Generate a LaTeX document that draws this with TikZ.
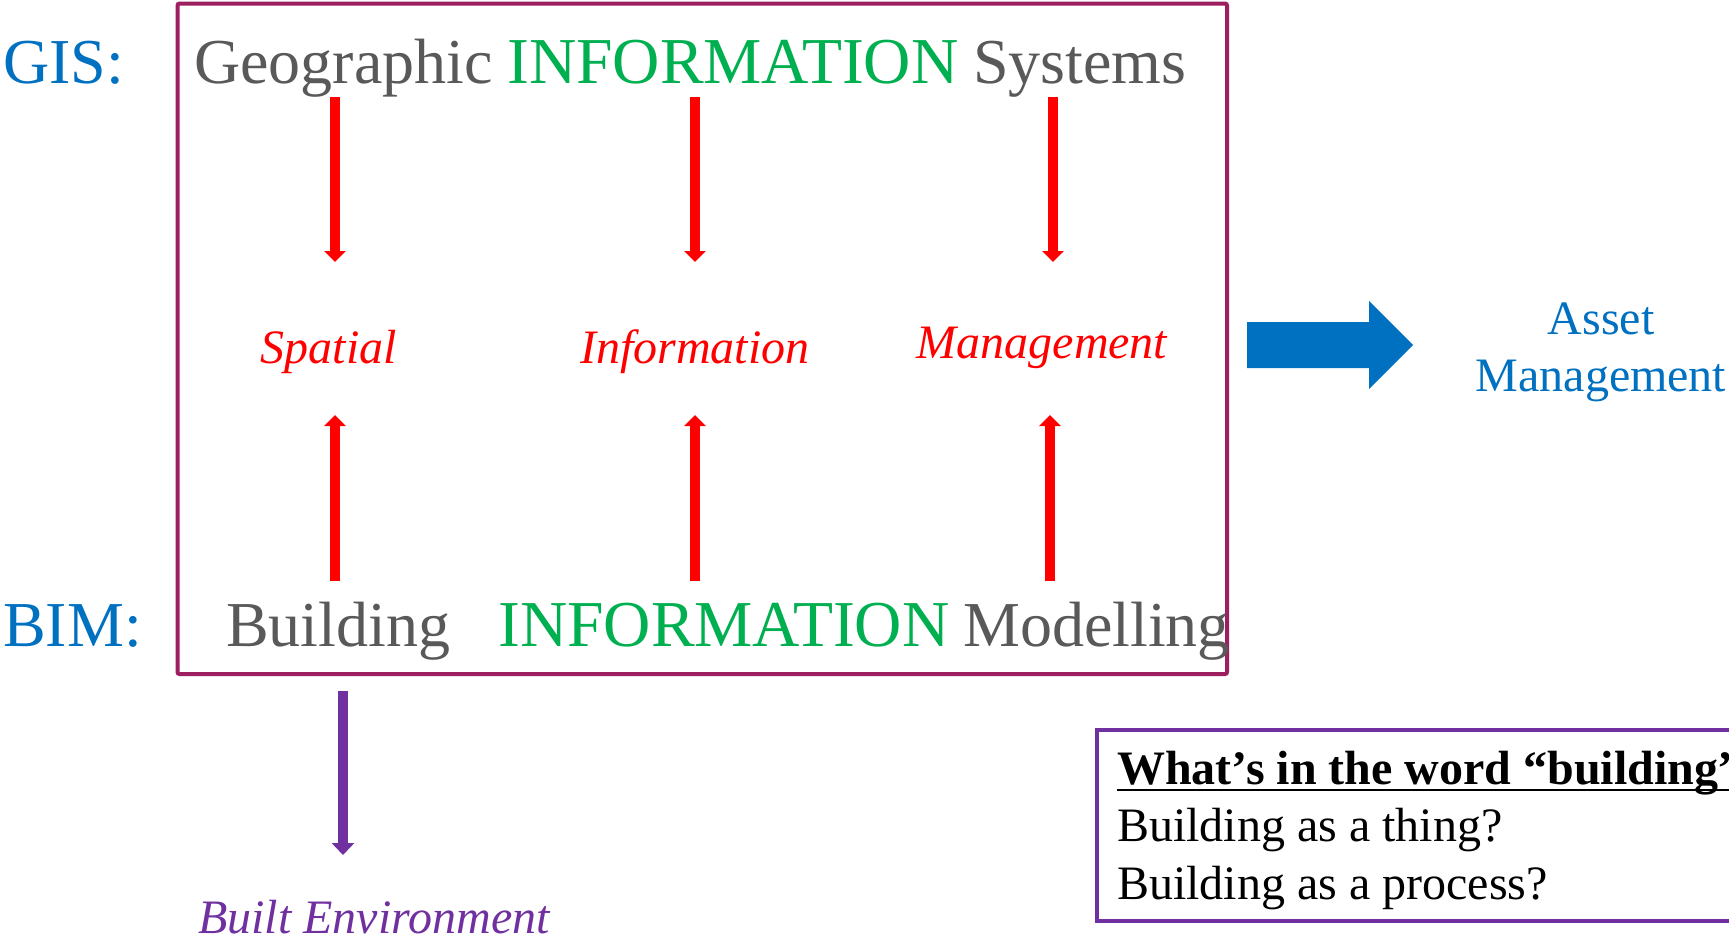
\documentclass[tikz,border=0pt]{standalone}
\usepackage{fontspec}
\setmainfont{Liberation Serif}
\usetikzlibrary{arrows.meta}
\definecolor{boxmag}{RGB}{158,31,96}
\definecolor{pblue}{RGB}{0,112,192}
\definecolor{pgreen}{RGB}{0,176,80}
\definecolor{pgrey}{RGB}{89,89,89}
\definecolor{ppurple}{RGB}{112,48,160}
\definecolor{pred}{RGB}{255,0,0}
\begin{document}
\begin{tikzpicture}[x=1pt,y=-1pt,
  big/.style={font=\fontsize{64}{76}\selectfont, inner sep=0pt, anchor=base west},
  bigcap/.style={font=\fontsize{65.5}{78}\selectfont, inner sep=0pt, anchor=base west},
  mid/.style={font=\fontsize{48}{57}\selectfont, inner sep=0pt, anchor=base west},
  lab/.style={font=\fontsize{48}{57}\selectfont\itshape, inner sep=0pt, anchor=base},
  redarrow/.style={draw=pred, line width=10pt, -{Triangle[width=21pt,length=11pt]}},
  purparrow/.style={draw=ppurple, line width=10pt, -{Triangle[width=22pt,length=12pt]}}
]
\clip (0,0) rectangle (1729,940);
\fill[white] (0,0) rectangle (1729,940);

% main frame
\draw[boxmag, line width=4pt, rounded corners=2pt] (177.5,3.5) rectangle (1227,674);

% top line
\node[big, text=pblue] (gis) at (3,83) {GIS:};
\node[big, text=pgrey] (geo) at (194,83) {Geographic};
\node[bigcap, text=pgreen] (info1) at (507,83) {INFORMATION};
\node[big, text=pgrey] (sys) at (973,83) {Systems};

% bottom line
\node[big, text=pblue] (bim) at (3,646) {BIM:};
\node[big, text=pgrey] (bld) at (226,646) {Building};
\node[bigcap, text=pgreen] (info2) at (498,646) {INFORMATION};
\node[big, text=pgrey] (mod) at (963,646) {Modelling};

% middle labels
\node[lab, text=pred] (spatial) at (329,363) {Spatial};
\node[lab, text=pred] (information) at (695,363) {Information};
\node[lab, text=pred] (management) at (1042,358) {Management};

% red arrows
\coordinate (d1s) at (335,97);  \coordinate (d1e) at (335,262);
\coordinate (d2s) at (695,97);  \coordinate (d2e) at (695,262);
\coordinate (d3s) at (1053,97); \coordinate (d3e) at (1053,262);
\coordinate (u1s) at (335,581); \coordinate (u1e) at (335,415);
\coordinate (u2s) at (695,581); \coordinate (u2e) at (695,415);
\coordinate (u3s) at (1050,581); \coordinate (u3e) at (1050,415);
\draw[redarrow] (d1s) -- (d1e);
\draw[redarrow] (d2s) -- (d2e);
\draw[redarrow] (d3s) -- (d3e);
\draw[redarrow] (u1s) -- (u1e);
\draw[redarrow] (u2s) -- (u2e);
\draw[redarrow] (u3s) -- (u3e);

% blue block arrow
\fill[pblue] (1247,322) -- (1369,322) -- (1369,301) -- (1413,345) -- (1369,389) -- (1369,368) -- (1247,368) -- cycle;
\node[mid, anchor=base, text=pblue] (asset1) at (1601,334) {Asset};
\node[mid, anchor=base, text=pblue] (asset2) at (1601,391) {Management};

% purple arrow
\coordinate (pa1) at (343,691);
\coordinate (pa2) at (343,855);
\draw[purparrow] (pa1) -- (pa2);
\node[lab, anchor=base west, text=ppurple] (built) at (198,933) {Built Environment};

% right box
\draw[ppurple, line width=4pt] (1097,730) rectangle (1790,921);
\node[mid, font=\fontsize{48}{57}\selectfont\bfseries] (q1) at (1117,784) {What’s in the word “building”};
\draw[line width=2.5pt] ([yshift=-6pt]q1.base west) -- ([yshift=-6pt,xshift=40pt]q1.base east);
\node[mid] (q2) at (1117,841) {Building as a thing?};
\node[mid] (q3) at (1117,899) {Building as a process?};
\end{tikzpicture}
\end{document}
